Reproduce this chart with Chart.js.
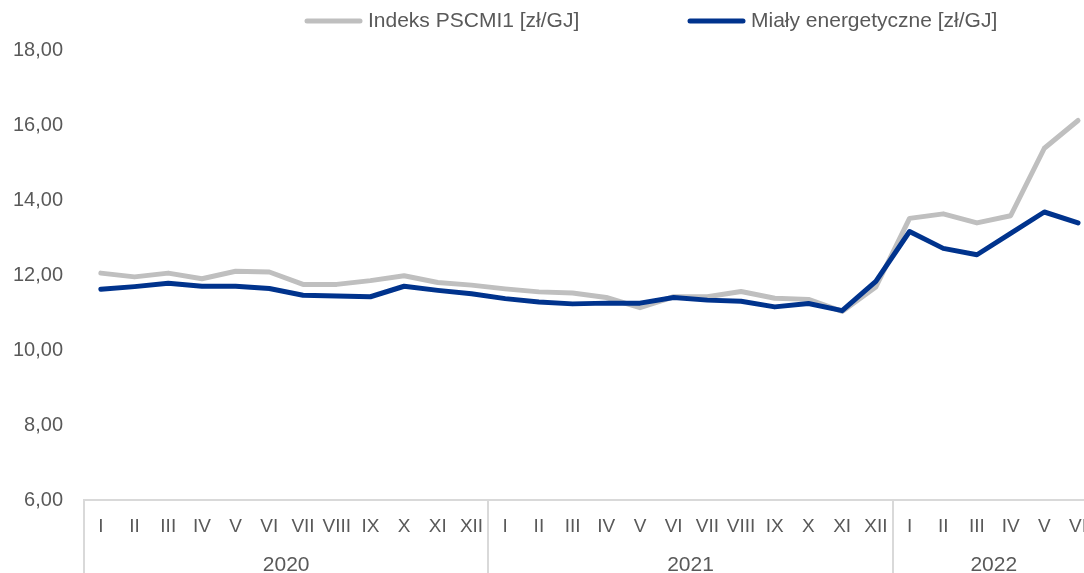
<!DOCTYPE html>
<html lang="pl">
<head>
<meta charset="utf-8">
<title>Indeks PSCMI1 i miały energetyczne</title>
<script src="https://cdn.jsdelivr.net/npm/chart.js@4.4.1/dist/chart.umd.min.js"></script>
<style>
  html, body { margin: 0; padding: 0; background: #fff; overflow: hidden; }
  #wrap { width: 1102px; height: 573px; }
</style>
</head>
<body>
<div id="wrap"><canvas id="chart" width="1102" height="573"></canvas></div>
<script>
// === DADOS ===
const YEARS = ['2020', '2021', '2022'];
const MONTHS_PER_YEAR = [12, 12, 6];
const MONTH_NAMES = ['I', 'II', 'III', 'IV', 'V', 'VI', 'VII', 'VIII', 'IX', 'X', 'XI', 'XII'];
const SERIES_LABELS = ['Indeks PSCMI1 [zł/GJ]', 'Miały energetyczne [zł/GJ]'];
const PSCMI1 = [12.05, 11.95, 12.05, 11.90, 12.10, 12.08, 11.75, 11.75, 11.85, 11.98, 11.80, 11.73,
                11.63, 11.55, 11.52, 11.40, 11.13, 11.42, 11.42, 11.56, 11.38, 11.35, 11.03, 11.68,
                13.51, 13.63, 13.39, 13.58, 15.38, 16.12];
const MIALY = [11.62, 11.69, 11.78, 11.70, 11.70, 11.64, 11.46, 11.44, 11.42, 11.70, 11.59, 11.50,
               11.37, 11.28, 11.23, 11.25, 11.25, 11.40, 11.33, 11.30, 11.15, 11.24, 11.05, 11.83,
               13.16, 12.71, 12.54, 13.11, 13.68, 13.39];
const Y_MIN = 6, Y_MAX = 18, Y_STEP = 2;

// === ESTILO ===
const FONT = '"Liberation Sans", Arial, sans-serif';
const TEXT_COLOR = '#595959';
const AXIS_COLOR = '#d9d9d9';
const COLORS = ['#bfbfbf', '#00338d'];
const LEGEND_X = [305, 688];

// rótulos do eixo x montados a partir dos meses de cada ano
const monthLabels = YEARS.flatMap((y, i) => MONTH_NAMES.slice(0, MONTHS_PER_YEAR[i]));
const groupStarts = MONTHS_PER_YEAR.map((n, i) => MONTHS_PER_YEAR.slice(0, i).reduce((a, b) => a + b, 0));
const groupCenters = groupStarts.map((s, i) => s + (MONTHS_PER_YEAR[i] - 1) / 2);
const formatar = v => v.toFixed(2).replace('.', ',');

// linhas verticais entre os anos, abaixo do eixo
const separators = {
    id: 'separators',
    afterDraw(chart) {
        const { ctx, chartArea } = chart;
        const x = chart.scales.x;
        ctx.save();
        ctx.strokeStyle = AXIS_COLOR;
        ctx.lineWidth = 2;
        groupStarts.forEach(s => {
            const px = Math.round(x.getPixelForValue(s - 0.5));
            ctx.beginPath();
            ctx.moveTo(px, chartArea.bottom);
            ctx.lineTo(px, chart.height);
            ctx.stroke();
        });
        ctx.restore();
    }
};

// legenda no topo, como no original
const topLegend = {
    id: 'topLegend',
    afterDraw(chart) {
        const ctx = chart.ctx;
        ctx.save();
        ctx.font = '21px ' + FONT;
        ctx.textBaseline = 'middle';
        chart.data.datasets.forEach((ds, i) => {
            const x0 = LEGEND_X[i], y = 21;
            ctx.strokeStyle = ds.borderColor;
            ctx.lineWidth = 5;
            ctx.lineCap = 'round';
            ctx.beginPath();
            ctx.moveTo(x0 + 2, y);
            ctx.lineTo(x0 + 55, y);
            ctx.stroke();
            ctx.fillStyle = TEXT_COLOR;
            ctx.fillText(ds.label, x0 + 63, y);
        });
        ctx.restore();
    }
};

new Chart(document.getElementById('chart'), {
    type: 'line',
    data: {
        labels: monthLabels,
        datasets: [
            { label: SERIES_LABELS[0], data: PSCMI1, borderColor: COLORS[0], order: 1 },
            { label: SERIES_LABELS[1], data: MIALY, borderColor: COLORS[1], order: 0 }
        ]
    },
    options: {
        responsive: false,
        animation: false,
        devicePixelRatio: 1,
        layout: { padding: { top: 50, left: 12, right: 0, bottom: 0 } },
        elements: {
            line: { borderWidth: 5, tension: 0, borderCapStyle: 'round', borderJoinStyle: 'round' },
            point: { radius: 0, hoverRadius: 0 }
        },
        plugins: { legend: { display: false }, tooltip: { enabled: false } },
        scales: {
            y: {
                min: Y_MIN, max: Y_MAX,
                grid: { display: false, drawTicks: false },
                border: { display: false },
                afterFit: scale => { scale.width = 72; },
                ticks: {
                    stepSize: Y_STEP, padding: 21, color: TEXT_COLOR,
                    font: { family: FONT, size: 20 },
                    callback: v => formatar(v)
                }
            },
            x: {
                offset: true,
                grid: { display: false, drawTicks: false },
                border: { display: true, color: AXIS_COLOR, width: 2 },
                afterFit: scale => { scale.height = 36; },
                ticks: {
                    autoSkip: false, maxRotation: 0, padding: 15, color: TEXT_COLOR,
                    font: { family: FONT, size: 19 }
                }
            },
            x2: {
                type: 'linear', position: 'bottom',
                min: -0.5, max: monthLabels.length - 0.5,
                grid: { display: false, drawTicks: false },
                border: { display: false },
                afterFit: scale => { scale.height = 37; },
                afterBuildTicks: scale => { scale.ticks = groupCenters.map(v => ({ value: v })); },
                ticks: {
                    autoSkip: false, maxRotation: 0, padding: 17, color: TEXT_COLOR,
                    font: { family: FONT, size: 21 },
                    callback: (v, i) => YEARS[i]
                }
            }
        }
    },
    plugins: [separators, topLegend]
});
</script>
</body>
</html>
